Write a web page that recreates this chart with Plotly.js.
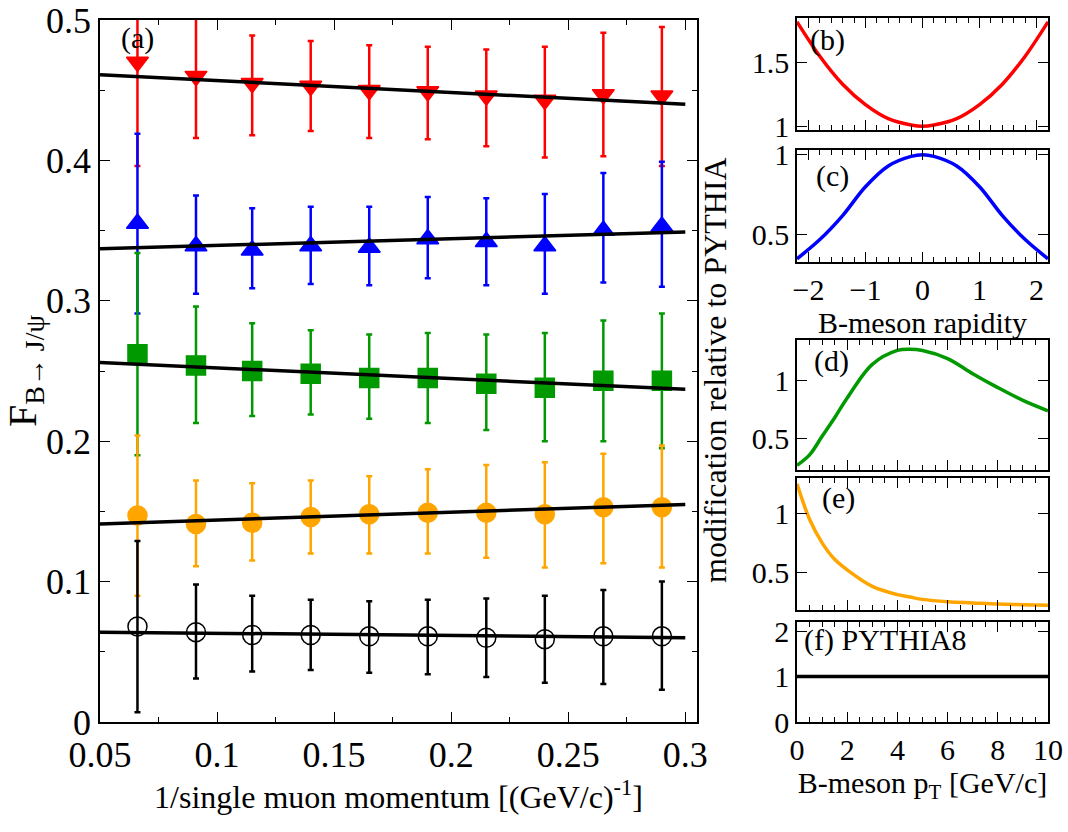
<!DOCTYPE html>
<html>
<head>
<meta charset="utf-8">
<script src="https://cdn.plot.ly/plotly-3.0.1.min.js"></script>
<style>body{margin:0}#plot{width:1068px;height:832px}</style>
</head>
<body>
<div id="plot"></div>
<script>
// panel (a): F vs 1/p
const invP = [0.066, 0.091, 0.115, 0.14, 0.165, 0.19, 0.215, 0.24, 0.265, 0.29]
const fRed = [0.47, 0.46, 0.455, 0.453, 0.45, 0.449, 0.446, 0.443, 0.447, 0.446]
const fRedHi = [0.55, 0.51, 0.489, 0.485, 0.482, 0.481, 0.479, 0.481, 0.491, 0.495]
const fRedLo = [0.396, 0.416, 0.418, 0.421, 0.416, 0.415, 0.41, 0.402, 0.403, 0.396]
const fBlue = [0.355, 0.339, 0.336, 0.339, 0.338, 0.344, 0.342, 0.339, 0.35, 0.353]
const fBlueHi = [0.419, 0.375, 0.366, 0.367, 0.367, 0.374, 0.373, 0.376, 0.391, 0.399]
const fBlueLo = [0.291, 0.305, 0.309, 0.312, 0.311, 0.316, 0.311, 0.305, 0.313, 0.31]
const fGreen = [0.262, 0.254, 0.25, 0.248, 0.245, 0.245, 0.241, 0.238, 0.243, 0.243]
const fGreenHi = [0.334, 0.296, 0.284, 0.279, 0.276, 0.277, 0.276, 0.277, 0.286, 0.291]
const fGreenLo = [0.19, 0.213, 0.218, 0.219, 0.216, 0.213, 0.208, 0.2, 0.2, 0.195]
const fOrange = [0.147, 0.141, 0.142, 0.146, 0.148, 0.149, 0.149, 0.148, 0.153, 0.153]
const fOrangeHi = [0.204, 0.172, 0.17, 0.172, 0.175, 0.18, 0.183, 0.185, 0.191, 0.197]
const fOrangeLo = [0.09, 0.111, 0.115, 0.12, 0.12, 0.12, 0.117, 0.11, 0.113, 0.11]
const fBlack = [0.068, 0.064, 0.062, 0.062, 0.061, 0.061, 0.06, 0.059, 0.061, 0.061]
const fBlackHi = [0.129, 0.098, 0.09, 0.087, 0.086, 0.087, 0.088, 0.09, 0.094, 0.1]
const fBlackLo = [0.007, 0.031, 0.036, 0.037, 0.035, 0.034, 0.032, 0.028, 0.027, 0.023]
// straight-line fits, endpoints at x = 0.05 and 0.3
const fitX = [0.05, 0.3]
const fitRed = [0.461, 0.44]
const fitBlue = [0.337, 0.349]
const fitGreen = [0.256, 0.237]
const fitOrange = [0.141, 0.155]
const fitBlack = [0.064, 0.060]

// panels (b),(c): rapidity weights
const rap = [-2.2, -1.8, -1.4, -1.0, -0.6, -0.2, 0, 0.2, 0.6, 1.0, 1.4, 1.8, 2.2]
const wB = [1.82, 1.55, 1.33, 1.17, 1.06, 1.01, 1.0, 1.01, 1.06, 1.17, 1.33, 1.55, 1.82]
const wC = [0.35, 0.47, 0.62, 0.8, 0.93, 0.99, 1.0, 0.99, 0.93, 0.8, 0.62, 0.47, 0.35]
// panels (d),(e),(f): pT weights
const pt = [0, 0.5, 1, 1.5, 2, 3, 4, 4.5, 5, 6, 7, 8, 9, 10]
const wD = [0.27, 0.36, 0.52, 0.68, 0.85, 1.14, 1.26, 1.27, 1.26, 1.19, 1.06, 0.94, 0.83, 0.74]
const wE = [1.25, 0.95, 0.75, 0.61, 0.52, 0.38, 0.31, 0.29, 0.27, 0.25, 0.24, 0.23, 0.225, 0.22]
const wF = [1, 1, 1, 1, 1, 1, 1, 1, 1, 1, 1, 1, 1, 1]

const W = 1068, H = 832
const dx = (a, b) => [a / W, b / W]
const dy = (top, bot) => [1 - bot / H, 1 - top / H]
const font = 'Liberation Serif'

const series = [
  [fRed, fRedHi, fRedLo, fitRed, '#ff0000', 'triangle-down'],
  [fBlue, fBlueHi, fBlueLo, fitBlue, '#0000ff', 'triangle-up'],
  [fGreen, fGreenHi, fGreenLo, fitGreen, '#009900', 'square'],
  [fOrange, fOrangeHi, fOrangeLo, fitOrange, '#ffa500', 'circle'],
  [fBlack, fBlackHi, fBlackLo, fitBlack, '#000000', 'circle-open'],
]
const data = []
series.forEach(([v, hi, lo, fit, c, sym]) => {
  data.push({
    x: invP, y: v, type: 'scatter', mode: 'markers', xaxis: 'x', yaxis: 'y',
    marker: {symbol: sym, size: 19, color: c, line: {color: c, width: 1.5}},
    error_y: {type: 'data', symmetric: false,
      array: hi.map((h, i) => h - v[i]), arrayminus: lo.map((l, i) => v[i] - l),
      color: c, thickness: 2.5, width: 3}
  })
})
series.forEach(([v, hi, lo, fit]) => {
  data.push({x: fitX, y: fit, type: 'scatter', mode: 'lines', xaxis: 'x', yaxis: 'y',
    line: {color: 'black', width: 3.5}})
})
const curve = (x, y, c, ax) => ({x, y, type: 'scatter', mode: 'lines', xaxis: 'x' + ax, yaxis: 'y' + ax,
  line: {color: c, width: 3.5, shape: 'spline'}})
data.push(curve(rap, wB, '#ff0000', 2))
data.push(curve(rap, wC, '#0000ff', 3))
data.push(curve(pt, wD, '#009900', 4))
data.push(curve(pt, wE, '#ffa500', 5))
data.push(curve(pt, wF, '#000000', 6))

const frame = {showline: true, mirror: 'allticks', linecolor: 'black', linewidth: 1.5,
  ticks: 'inside', ticklen: 10, tickcolor: 'black', showgrid: false, zeroline: false,
  tickfont: {family: font, size: 36, color: 'black'}}
const side = {...frame, tickfont: {family: font, size: 30, color: 'black'}}
const minor = (d) => ({dtick: d, ticks: 'inside', ticklen: 5, tickcolor: 'black'})
const tt = (t, s) => ({text: t, font: {family: font, size: s, color: 'black'}, standoff: 0})

const layout = {
  width: W, height: H, showlegend: false,
  margin: {l: 0, r: 0, t: 0, b: 0},
  paper_bgcolor: 'white', plot_bgcolor: 'white',
  font: {family: font, color: 'black', size: 30},
  xaxis: {...frame, domain: dx(100, 697), range: [0.05, 0.305], dtick: 0.05, minor: minor(0.025),
    anchor: 'y', title: tt('1/single muon momentum [(GeV/c)<sup>-1</sup>]', 32)},
  yaxis: {...frame, domain: dy(20, 722), range: [0, 0.5], dtick: 0.1, minor: minor(0.05), anchor: 'x',
    title: tt('F<sub>B→ J/ψ</sub>', 40)},
  xaxis2: {...side, domain: dx(797, 1048), range: [-2.2, 2.2], dtick: 1, minor: minor(0.2), showticklabels: false, anchor: 'y2'},
  yaxis2: {...side, domain: dy(18, 130), range: [0.97, 1.85], tickvals: [1, 1.5], ticktext: ['1', '1.5'], anchor: 'x2'},
  xaxis3: {...side, domain: dx(797, 1048), range: [-2.2, 2.2], dtick: 1, minor: minor(0.2), anchor: 'y3',
    title: tt('B-meson rapidity', 30)},
  yaxis3: {...side, domain: dy(150, 262), range: [0.33, 1.03], tickvals: [0.5, 1], ticktext: ['0.5', '1'], anchor: 'x3'},
  xaxis4: {...side, domain: dx(797, 1048), range: [0, 10], dtick: 2, minor: minor(0.5), showticklabels: false, anchor: 'y4'},
  yaxis4: {...side, domain: dy(340, 470), range: [0.23, 1.35], tickvals: [0.5, 1], ticktext: ['0.5', '1'], anchor: 'x4'},
  xaxis5: {...side, domain: dx(797, 1048), range: [0, 10], dtick: 2, minor: minor(0.5), showticklabels: false, anchor: 'y5'},
  yaxis5: {...side, domain: dy(478, 610), range: [0.18, 1.3], tickvals: [0.5, 1], ticktext: ['0.5', '1'], anchor: 'x5'},
  xaxis6: {...side, domain: dx(797, 1048), range: [0, 10], dtick: 2, minor: minor(0.5), anchor: 'y6',
    title: tt('B-meson p<sub>T</sub> [GeV/c]', 30)},
  yaxis6: {...side, domain: dy(622, 722), range: [0, 2.2], dtick: 1, anchor: 'x6'},
  annotations: [
    ['(a)', 0.058, 0.487, 'x', 'y'], ['(b)', -2.0, 1.68, 'x2', 'y2'], ['(c)', -1.9, 0.87, 'x3', 'y3'],
    ['(d)', 0.6, 1.17, 'x4', 'y4'], ['(e)', 0.9, 1.13, 'x5', 'y5'], ['(f) PYTHIA8', 0.2, 1.8, 'x6', 'y6']
  ].map(([t, x, y, xr, yr]) => ({text: t, x, y, xref: xr, yref: yr, xanchor: 'left', showarrow: false,
    font: {family: font, size: 30, color: 'black'}})).concat([{
    text: 'modification relative to PYTHIA', textangle: -90, x: 735 / W, y: 1 - 370 / H,
    xref: 'paper', yref: 'paper', showarrow: false, font: {family: font, size: 32, color: 'black'}}])
}
Plotly.newPlot('plot', data, layout, {displayModeBar: false})
</script>
</body>
</html>
